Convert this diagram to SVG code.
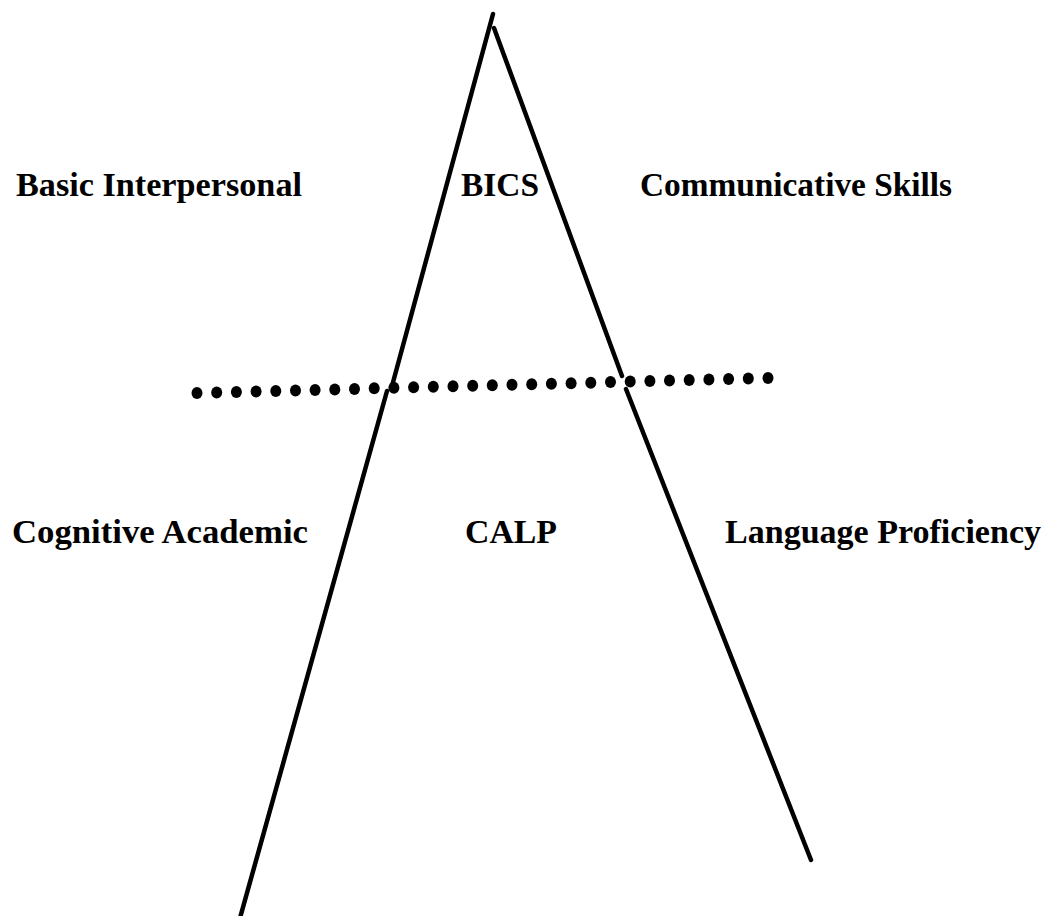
<svg xmlns="http://www.w3.org/2000/svg" width="1051" height="916" viewBox="0 0 1051 916">
<style>
.lbl{font-family:"Liberation Serif","Times New Roman",serif;font-weight:bold;font-size:34px;fill:#000}
.ln{stroke:#000;stroke-width:4.5;stroke-linecap:round;fill:none}
.dot{fill:#000}
</style>
<defs><ellipse id="d" rx="5.5" ry="6" class="dot"/></defs>
<rect width="1051" height="916" fill="#fff"/>
<g id="connectors">
<path class="ln" d="M493,14 L392,386"/>
<path class="ln" d="M387,391 L240,918"/>
<path class="ln" d="M494,28 L622,376"/>
<path class="ln" d="M626,389 L811,860"/>
</g>
<g id="divider">
<use href="#d" x="197" y="393"/>
<use href="#d" x="216.7" y="392.5"/>
<use href="#d" x="236.4" y="392"/>
<use href="#d" x="256.1" y="391.4"/>
<use href="#d" x="275.8" y="390.9"/>
<use href="#d" x="295.5" y="390.4"/>
<use href="#d" x="315.1" y="389.9"/>
<use href="#d" x="334.8" y="389.4"/>
<use href="#d" x="354.5" y="388.9"/>
<use href="#d" x="374.2" y="388.3"/>
<use href="#d" x="393.9" y="387.8"/>
<use href="#d" x="413.6" y="387.3"/>
<use href="#d" x="433.3" y="386.8"/>
<use href="#d" x="453" y="386.3"/>
<use href="#d" x="472.7" y="385.8"/>
<use href="#d" x="492.3" y="385.2"/>
<use href="#d" x="512" y="384.7"/>
<use href="#d" x="531.7" y="384.2"/>
<use href="#d" x="551.4" y="383.7"/>
<use href="#d" x="571.1" y="383.2"/>
<use href="#d" x="590.8" y="382.7"/>
<use href="#d" x="610.5" y="382.1"/>
<use href="#d" x="630.2" y="381.6"/>
<use href="#d" x="649.9" y="381.1"/>
<use href="#d" x="669.5" y="380.6"/>
<use href="#d" x="689.2" y="380.1"/>
<use href="#d" x="708.9" y="379.6"/>
<use href="#d" x="728.6" y="379"/>
<use href="#d" x="748.3" y="378.5"/>
<use href="#d" x="768" y="378"/>
</g>
<g id="bics-left"><text class="lbl" x="16" y="196" textLength="286" lengthAdjust="spacingAndGlyphs">Basic Interpersonal</text></g>
<g id="bics"><text class="lbl" x="461" y="196" textLength="78" lengthAdjust="spacingAndGlyphs">BICS</text></g>
<g id="bics-right"><text class="lbl" x="640" y="196" textLength="312" lengthAdjust="spacingAndGlyphs">Communicative Skills</text></g>
<g id="calp-left"><text class="lbl" x="12" y="543" textLength="296" lengthAdjust="spacingAndGlyphs">Cognitive Academic</text></g>
<g id="calp"><text class="lbl" x="465" y="543" textLength="92" lengthAdjust="spacingAndGlyphs">CALP</text></g>
<g id="calp-right"><text class="lbl" x="725" y="543" textLength="316" lengthAdjust="spacingAndGlyphs">Language Proficiency</text></g>
</svg>
